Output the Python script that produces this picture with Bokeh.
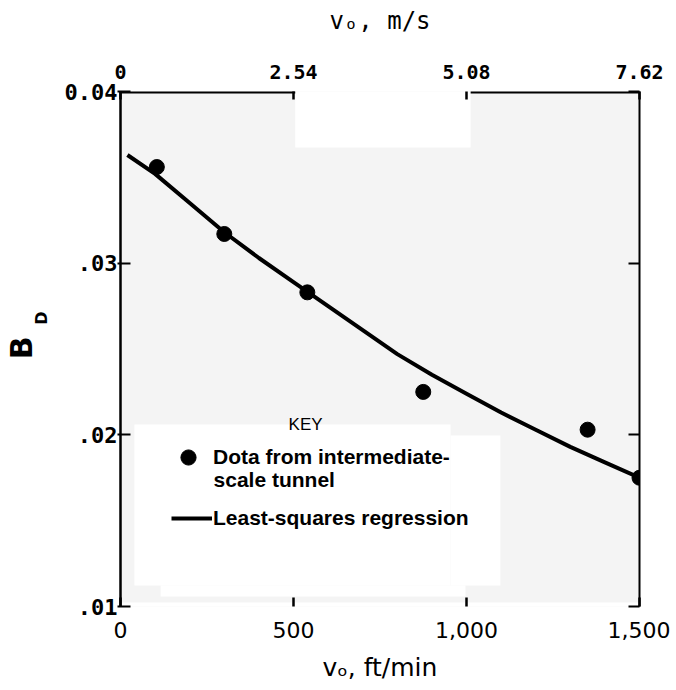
from bokeh.plotting import figure
from bokeh.models import LinearAxis, FixedTicker, Label, Legend, LegendItem, Range1d, Title
from bokeh.embed import file_html
from bokeh.resources import INLINE

# ---- data ----
pts_v = [105, 300, 540, 875, 1350, 1500]                       # ft/min
pts_bd = [0.0356, 0.0317, 0.0283, 0.0225, 0.0203, 0.0175]
fit_v = [20, 100, 200, 300, 400, 500, 600, 700, 800, 900, 1000, 1100, 1200, 1300, 1400, 1500]
fit_bd = [0.0363, 0.0352, 0.0335, 0.0318, 0.0303, 0.0289, 0.0275, 0.0261,
          0.0247, 0.0235, 0.0224, 0.0213, 0.0203, 0.0193, 0.0184, 0.0175]
ft_ticks = [0, 500, 1000, 1500]
ft_labels = ["0", "500", "1,000", "1,500"]
ms_labels = ["0", "2.54", "5.08", "7.62"]
bd_ticks = [0.01, 0.02, 0.03, 0.04]
bd_labels = [".01", ".02", ".03", "0.04"]

GRAY = "#f4f4f4"

p = figure(width=670, height=686,
           x_range=Range1d(0, 1500), y_range=Range1d(0.01, 0.04),
           output_backend="svg", toolbar_location=None,
           min_border_left=120, min_border_right=31,
           min_border_top=91, min_border_bottom=80,
           background_fill_color=GRAY, border_fill_color="white",
           outline_line_color=None)
p.xgrid.visible = False
p.ygrid.visible = False

# white patches of the scanned page (decoration)
p.quad(left=[505, 40, 954, 116, 0], right=[1012, 954, 1098, 997, 1500],
       top=[0.0402, 0.0206, 0.01996, 0.01122, 0.01023],
       bottom=[0.03674, 0.01122, 0.01122, 0.01058, 0.0098],
       fill_color="white", line_color=None, level="underlay")

# top border pieces
p.segment(x0=[0, 1012], y0=[0.04, 0.04], x1=[505, 1500], y1=[0.04, 0.04],
          line_color="black", line_width=4)

# bottom axis (ft/min)
xa = p.xaxis[0]
xa.ticker = FixedTicker(ticks=ft_ticks)
xa.major_label_overrides = {t: l for t, l in zip(ft_ticks, ft_labels)}
xa.axis_line_color = None
xa.major_tick_in = 9
xa.major_tick_out = 0
xa.major_tick_line_width = 2.5
xa.minor_tick_line_color = None
xa.major_label_standoff = 15
xa.major_label_text_font = "DejaVu Sans"
xa.major_label_text_font_size = "22px"
xa.major_label_text_color = "black"
xa.axis_label = "vₒ, ft/min"
xa.axis_label_standoff = 12
xa.axis_label_text_font = "DejaVu Sans"
xa.axis_label_text_font_style = "normal"
xa.axis_label_text_font_size = "25px"
xa.axis_label_text_color = "black"

# left axis
ya = p.yaxis[0]
ya.ticker = FixedTicker(ticks=bd_ticks)
ya.major_label_overrides = {t: l for t, l in zip(bd_ticks, bd_labels)}
ya.axis_line_color = "black"
ya.axis_line_width = 2.5
ya.major_tick_in = 10
ya.major_tick_out = 3
ya.major_tick_line_width = 2
ya.minor_tick_line_color = None
ya.major_label_standoff = 0
ya.major_label_text_font = "DejaVu Sans Mono"
ya.major_label_text_font_style = "bold"
ya.major_label_text_font_size = "22px"
ya.major_label_text_color = "black"

# y title B with subscript D, as side titles
t_d = Title(text="D", align="right", offset=220, vertical_align="top",
            text_font="DejaVu Sans", text_font_style="bold",
            text_font_size="16px", text_color="black", standoff=18)
t_b = Title(text="B", align="right", offset=245, vertical_align="bottom",
            text_font="DejaVu Sans", text_font_style="bold",
            text_font_size="30px", text_color="black")
try:
    t_b.standoff = -32
except ValueError:
    t_b.standoff = 0
p.add_layout(t_d, "left")
p.add_layout(t_b, "left")

# top axis (m/s)
ta = LinearAxis(ticker=FixedTicker(ticks=ft_ticks),
                major_label_overrides={t: l for t, l in zip(ft_ticks, ms_labels)})
ta.axis_line_color = None
ta.major_tick_in = 8
ta.major_tick_out = 0
ta.major_tick_line_width = 2.5
ta.minor_tick_line_color = None
ta.major_label_standoff = 13
ta.major_label_text_font = "DejaVu Sans Mono"
ta.major_label_text_font_style = "bold"
ta.major_label_text_font_size = "20px"
ta.major_label_text_color = "black"
ta.axis_label = "vₒ, m/s"
ta.axis_label_standoff = 27
ta.axis_label_text_font = "DejaVu Sans Mono"
ta.axis_label_text_font_style = "normal"
ta.axis_label_text_font_size = "24px"
ta.axis_label_text_color = "black"
p.add_layout(ta, "above")

# right axis (frame line + ticks only)
ra = LinearAxis(ticker=FixedTicker(ticks=bd_ticks),
                major_label_overrides={t: "" for t in bd_ticks})
ra.axis_line_color = "black"
ra.axis_line_width = 2
ra.major_tick_in = 11
ra.major_tick_out = 0
ra.major_tick_line_width = 2
ra.minor_tick_line_color = None
ra.major_label_text_font_size = "1px"
p.add_layout(ra, "right")

# data
fit_r = p.line(fit_v, fit_bd, line_color="black", line_width=4)
pts_r = p.scatter(pts_v, pts_bd, size=15, fill_color="black", line_color="black")

# KEY heading
p.add_layout(Label(x=535, y=0.0206, text="KEY", text_align="center",
                   text_baseline="alphabetic", text_font="Liberation Sans",
                   text_font_size="17px", text_color="black"))


def style_legend(lg):
    lg.background_fill_alpha = 0
    lg.border_line_color = None
    lg.padding = 0
    lg.margin = 0
    lg.spacing = 0
    lg.label_text_font = "Liberation Sans"
    lg.label_text_font_style = "bold"
    lg.label_text_font_size = "21px"
    lg.label_text_color = "black"


leg_pts = Legend(items=[LegendItem(label="Dota from intermediate-", renderers=[pts_r])],
                 location=(48, 130))
style_legend(leg_pts)
leg_pts.glyph_width = 40
leg_pts.glyph_height = 38
leg_pts.label_height = 38
leg_pts.label_standoff = 5
p.add_layout(leg_pts)

p.add_layout(Label(x=269, y=0.0174, text="scale tunnel", text_align="left",
                   text_baseline="middle", text_font="Liberation Sans",
                   text_font_style="bold", text_font_size="21px",
                   text_color="black"))

leg_fit = Legend(items=[LegendItem(label="Least-squares regression", renderers=[fit_r])],
                 location=(51, 64))
style_legend(leg_fit)
leg_fit.glyph_width = 41
leg_fit.glyph_height = 24
leg_fit.label_height = 48
leg_fit.label_standoff = 1
p.add_layout(leg_fit)

open("out.html", "w").write(file_html(p, INLINE))
